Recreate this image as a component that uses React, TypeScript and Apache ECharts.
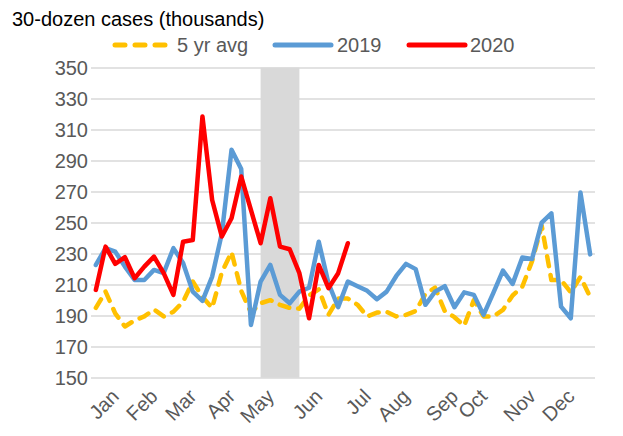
import React, { useEffect, useRef } from "react";
import * as echarts from "echarts";

const monthNames = ["Jan", "Feb", "Mar", "Apr", "May", "Jun", "Jul", "Aug", "Sep", "Oct", "Nov", "Dec"];
const monthWeekIndex = [2, 6, 10, 14, 18, 23, 28, 32, 37, 40, 45, 49];
const weekCount = 52;

const avg5yr = [
  195, 205.5, 191.5, 183, 187, 189.5, 194, 189.5, 192.5, 199,
  212, 202, 195, 218, 231, 206, 192, 198, 200, 197,
  195, 194.5, 203, 207, 190.5, 201, 201, 197, 189.5, 192,
  192.5, 189.5, 190.5, 193, 204, 208, 193, 189, 183.5, 200,
  189.5, 189.5, 193.7, 203, 208.7, 225, 248, 213, 213, 205,
  215, 202,
];

const y2019 = [
  222.7, 233.5, 231.3, 221.6, 213, 213, 219.5, 217.4, 233.5, 224,
  205.5, 199.5, 215.2, 243, 297, 284.5, 184, 212, 222.7, 203.4,
  198, 205.5, 208, 237.7, 210.9, 195.5, 212, 209, 206, 200.6,
  205.5, 215.6, 223.4, 220, 197, 205.5, 209, 195.4, 205, 203.4,
  190.5, 204.5, 219, 210.5, 227.5, 226.5, 250, 256, 195.8, 188.3,
  269.4, 229.5,
];

const y2020 = [
  206.6, 234.5, 223.4, 227.7, 214.1, 221.6, 228.1, 217.4, 203.4, 237.7,
  238.8, 318.4, 264.6, 241, 252.8, 279.7, 258.2, 236.7, 265.7, 234.5,
  232.8, 217.4, 188.3, 222.7, 207.7, 217.4, 236.7,
];

const shadeStartWeek = 17;
const shadeEndWeek = 21;

const yTicks = { min: 150, max: 350, interval: 20 };

const FONT = "'Liberation Sans', Arial, sans-serif";

export default function App() {
  const ref = useRef<HTMLDivElement>(null);
  useEffect(() => {
    if (!ref.current) return;
    const chart = echarts.init(ref.current, undefined, { renderer: "svg" });
    const categories: string[] = [];
    for (let i = 0; i < weekCount; i++) categories.push("W" + (i + 1));

    const gold = "#FFC000";
    const blue = "#5B9BD5";
    const red = "#FF0000";

    chart.setOption({
      animation: false,
      textStyle: { fontFamily: FONT },
      grid: { left: 91, right: 28, top: 67.5, bottom: 58.3, containLabel: false },
      xAxis: {
        type: "category",
        data: categories,
        boundaryGap: true,
        axisLine: { show: false },
        axisTick: { show: false },
        splitLine: { show: false },
        axisLabel: {
          interval: 0,
          rotate: 45,
          margin: 15,
          fontSize: 20,
          color: "#595959",
          fontFamily: FONT,
          formatter: (_v: string, idx: number) => {
            const k = monthWeekIndex.indexOf(idx);
            return k >= 0 ? monthNames[k] : "";
          },
        },
      },
      yAxis: {
        type: "value",
        min: yTicks.min,
        max: yTicks.max,
        interval: yTicks.interval,
        axisLine: { show: false },
        axisTick: { show: false },
        axisLabel: { fontSize: 20, color: "#595959", margin: 3, fontFamily: FONT },
        splitLine: { lineStyle: { color: "#D9D9D9", width: 1.5 } },
      },
      series: [
        {
          name: "5 yr avg",
          type: "line",
          data: avg5yr,
          symbol: "none",
          lineStyle: { color: gold, width: 4.5, type: [10, 9], cap: "round", join: "round" },
          markArea: {
            silent: true,
            itemStyle: { color: "#D9D9D9" },
            data: [[{ xAxis: shadeStartWeek }, { xAxis: shadeEndWeek }]],
          },
          z: 2,
        },
        {
          name: "2019",
          type: "line",
          data: y2019,
          symbol: "none",
          lineStyle: { color: blue, width: 4.5, cap: "round", join: "round" },
          z: 3,
        },
        {
          name: "2020",
          type: "line",
          data: y2020,
          symbol: "none",
          lineStyle: { color: red, width: 4.5, cap: "round", join: "round" },
          z: 4,
        },
      ],
      graphic: [
        {
          type: "text",
          left: 12,
          top: 9,
          style: { text: "30-dozen cases (thousands)", fontSize: 20, fill: "#000000", fontFamily: FONT },
        },
        {
          type: "line",
          shape: { x1: 115, y1: 45, x2: 165, y2: 45 },
          style: { stroke: gold, lineWidth: 5, lineDash: [10, 10], lineCap: "round" },
        },
        {
          type: "text",
          x: 177,
          y: 45,
          style: { text: "5 yr avg", fontSize: 20, fill: "#595959", fontFamily: FONT, textVerticalAlign: "middle" },
        },
        {
          type: "line",
          shape: { x1: 275, y1: 45, x2: 331, y2: 45 },
          style: { stroke: blue, lineWidth: 5, lineCap: "round" },
        },
        {
          type: "text",
          x: 337,
          y: 45,
          style: { text: "2019", fontSize: 20, fill: "#595959", fontFamily: FONT, textVerticalAlign: "middle" },
        },
        {
          type: "line",
          shape: { x1: 409, y1: 45, x2: 465, y2: 45 },
          style: { stroke: red, lineWidth: 5, lineCap: "round" },
        },
        {
          type: "text",
          x: 470,
          y: 45,
          style: { text: "2020", fontSize: 20, fill: "#595959", fontFamily: FONT, textVerticalAlign: "middle" },
        },
      ],
    });
    return () => chart.dispose();
  }, []);
  return (
    <div
      ref={ref}
      style={{ position: "fixed", left: 0, top: 0, width: 623, height: 436, background: "#ffffff" }}
    />
  );
}
